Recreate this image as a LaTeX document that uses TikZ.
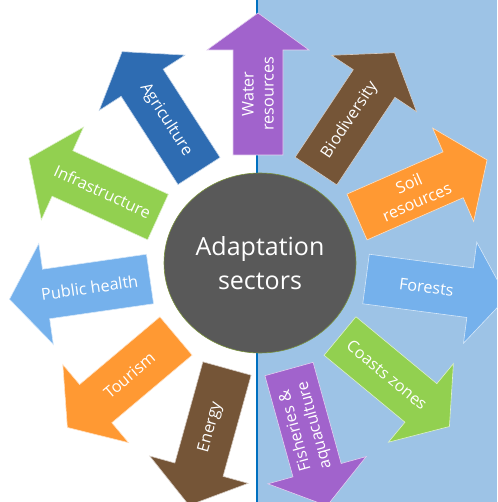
\documentclass[tikz,border=0pt]{standalone}
\usepackage{fontspec}
\setmainfont{Open Sans}
\usetikzlibrary{shapes.geometric}
\definecolor{bgblue}{RGB}{157,195,230}
\definecolor{lineblue}{RGB}{0,112,192}
\definecolor{cpurple}{RGB}{161,99,204}
\definecolor{cbrown}{RGB}{117,85,55}
\definecolor{corange}{RGB}{255,153,51}
\definecolor{clblue}{RGB}{117,177,236}
\definecolor{cgreen}{RGB}{146,208,80}
\definecolor{cblue}{RGB}{46,108,178}
\definecolor{hubgray}{RGB}{89,89,89}
\definecolor{hubedge}{RGB}{122,146,60}
\newcommand\sectorarrow[7]{%
  \begin{scope}[shift={(#2,#3)}, rotate=#4]
    \path[arrowshape=#5] (0,-25) -- (105,-25) -- (105,-51) -- (142,0) -- (105,51) -- (105,25) -- (0,25) -- cycle;
    \node[lab, rotate=#6] (#1) at (61,0) {#7};
  \end{scope}}
\begin{document}
\begin{tikzpicture}[x=1pt,y=-1pt,
  arrowshape/.style={draw=white!70!#1, line width=0.6pt, fill=#1},
  lab/.style={text=white, font=\fontsize{16.2}{20}\selectfont, align=center, inner sep=0pt},
  hub/.style={ellipse, draw=hubedge, line width=0.6pt, fill=hubgray, text=white,
    minimum width=192pt, minimum height=180pt, inner sep=0pt, align=center,
    font=\fontsize{25}{34}\selectfont}]
\useasboundingbox (0,0) rectangle (497,502);
\clip (0,0) rectangle (497,502);
\fill[bgblue] (257,0) rectangle (497,502);
\coordinate (ltop) at (257,0);
\coordinate (lbot) at (257,502);
\draw[lineblue, line width=1.4pt] (ltop) -- (lbot);
\sectorarrow{water}{258}{155}{90}{cpurple}{90}{Water\\resources}
\sectorarrow{bio}{316}{171}{56.4}{cbrown}{56.4}{Biodiversity}
\sectorarrow{soil}{357}{217}{23.7}{corange}{23.7}{Soil\\resources}
\sectorarrow{forest}{366}{279}{-7.5}{clblue}{-7.5}{Forests}
\sectorarrow{coast}{340}{336}{-39.6}{cgreen}{-39.6}{Coasts zones}
\sectorarrow{fish}{289}{369}{-74.5}{cpurple}{105.5}{Fisheries \&\\aquaculture}
\sectorarrow{energy}{227}{368.5}{-105.5}{cbrown}{74.5}{Energy}
\sectorarrow{tour}{176}{336}{220.1}{corange}{40.1}{Tourism}
\sectorarrow{health}{150}{279}{188.2}{clblue}{8.2}{Public health}
\sectorarrow{infra}{158}{217}{155.5}{cgreen}{-24.5}{Infrastructure}
\sectorarrow{agri}{199}{171}{122.8}{cblue}{-57.2}{Agriculture}
\node[hub] (center) at (260,263) {Adaptation\\sectors};
\end{tikzpicture}
\end{document}
